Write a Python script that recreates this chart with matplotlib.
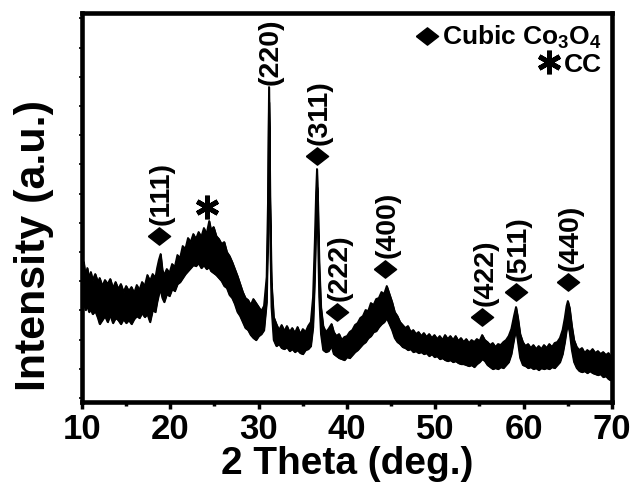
import numpy as np
import matplotlib
matplotlib.use("Agg")
import matplotlib.pyplot as plt
from matplotlib.ticker import MultipleLocator, FixedLocator

plt.rcParams['font.family'] = ['Liberation Sans', 'DejaVu Sans']
plt.rcParams['font.weight'] = 'bold'
plt.rcParams['mathtext.fontset'] = 'custom'
plt.rcParams['mathtext.rm'] = 'Liberation Sans:bold'
plt.rcParams['mathtext.default'] = 'rm'

# XRD scan (2 theta in degrees); the noisy trace is kept as upper / lower envelope
two_theta = [
    10.0, 10.2, 10.4, 10.6, 10.8, 11.0, 11.2, 11.5, 11.8, 12.0, 12.3, 12.6,
    12.9, 13.2, 13.5, 13.8, 14.1, 14.4, 14.7, 15.0, 15.3, 15.6, 15.9, 16.2,
    16.5, 16.8, 17.1, 17.4, 17.7, 18.0, 18.3, 18.5, 18.7, 18.9, 19.1, 19.3,
    19.6, 19.9, 20.2, 20.5, 20.8, 21.1, 21.4, 21.7, 22.0, 22.3, 22.6, 22.9,
    23.2, 23.5, 23.8, 24.1, 24.4, 24.6, 24.9, 25.2, 25.5, 25.8, 26.1, 26.4,
    26.7, 27.0, 27.3, 27.6, 27.9, 28.2, 28.5, 28.8, 29.1, 29.4, 29.7, 30.0,
    30.3, 30.6, 30.9, 31.05, 31.17, 31.3, 31.45, 31.7, 32.0, 32.3, 32.6, 32.9,
    33.2, 33.5, 33.8, 34.1, 34.4, 34.7, 35.0, 35.3, 35.6, 35.9, 36.15, 36.35,
    36.5, 36.6, 36.72, 36.85, 37.05, 37.3, 37.6, 37.9, 38.25, 38.5, 38.8, 39.1,
    39.4, 39.7, 40.0, 40.3, 40.6, 40.9, 41.2, 41.5, 41.8, 42.1, 42.4, 42.7,
    43.0, 43.3, 43.6, 43.9, 44.2, 44.5, 44.8, 45.1, 45.4, 45.7, 46.0, 46.3,
    46.6, 46.9, 47.2, 47.5, 47.8, 48.1, 48.4, 48.7, 49.0, 49.3, 49.6, 49.9,
    50.2, 50.5, 50.8, 51.1, 51.4, 51.7, 52.0, 52.3, 52.6, 52.9, 53.2, 53.5,
    53.8, 54.1, 54.4, 54.7, 55.0, 55.3, 55.6, 55.9, 56.2, 56.5, 56.8, 57.1,
    57.4, 57.7, 58.0, 58.3, 58.6, 58.9, 59.13, 59.35, 59.6, 59.9, 60.2, 60.5,
    60.8, 61.1, 61.4, 61.7, 62.0, 62.3, 62.6, 62.9, 63.2, 63.5, 63.8, 64.1,
    64.4, 64.65, 64.85, 65.0, 65.2, 65.45, 65.7, 66.0, 66.3, 66.6, 66.9, 67.2,
    67.5, 67.8, 68.1, 68.4, 68.7, 69.0, 69.3, 69.6, 69.8, 70.0,
]
intensity_hi = [
    130, 140, 126, 134, 124, 130, 122, 128, 120, 124, 116, 122,
    118, 123, 114, 120, 113, 118, 110, 116, 111, 115, 109, 117,
    112, 120, 116, 127, 121, 128, 124, 134, 142, 148, 132, 127,
    133, 129, 138, 135, 147, 144, 156, 153, 164, 160, 168, 163,
    170, 165, 174, 168, 181, 172, 175, 166, 163, 158, 160, 150,
    146, 140, 133, 126, 118, 110, 104, 102, 97, 103, 99, 95,
    91, 96, 125, 200, 315, 200, 120, 85, 78, 72, 77, 71,
    76, 70, 74, 69, 75, 68, 73, 70, 76, 80, 105, 160,
    210, 233, 195, 140, 95, 76, 70, 73, 78, 70, 66, 68,
    62, 65, 66, 70, 72, 77, 79, 84, 86, 92, 91, 99,
    97, 103, 104, 110, 108, 116, 108, 100, 90, 86, 80, 77,
    74, 76, 70, 72, 68, 70, 66, 69, 65, 68, 64, 67,
    63, 66, 62, 67, 63, 66, 62, 66, 61, 64, 60, 63,
    59, 62, 60, 63, 61, 67, 62, 60, 57, 59, 55, 58,
    57, 60, 62, 66, 73, 86, 95, 84, 68, 60, 56, 58,
    54, 57, 53, 56, 53, 57, 54, 58, 55, 59, 60, 64,
    72, 84, 96, 101, 94, 76, 62, 55, 52, 54, 49, 52,
    50, 53, 49, 51, 48, 50, 47, 49, 46, 47,
]
intensity_lo = [
    95, 100, 92, 96, 90, 93, 88, 91, 84, 78, 82, 86,
    80, 87, 79, 84, 82, 78, 83, 79, 82, 78, 83, 86,
    84, 89, 85, 88, 80, 92, 90, 100, 108, 112, 104, 100,
    108, 106, 113, 111, 118, 120, 124, 128, 131, 134, 137, 136,
    139, 134, 137, 133, 135, 131, 129, 127, 124, 121, 116, 114,
    107, 104, 98, 90, 86, 80, 74, 72, 67, 64, 62, 66,
    68, 72, 100, 170, 300, 170, 95, 62, 56, 58, 54, 53,
    55, 51, 53, 50, 52, 49, 48, 52, 53, 56, 75, 125,
    180, 215, 165, 105, 68, 52, 50, 51, 56, 48, 46, 44,
    43, 42, 45, 44, 47, 50, 52, 55, 58, 60, 64, 66,
    70, 71, 75, 78, 80, 84, 78, 72, 64, 60, 58, 55,
    54, 52, 53, 50, 51, 49, 50, 48, 49, 46, 48, 45,
    46, 43, 44, 42, 41, 42, 40, 41, 39, 38, 38, 37,
    36, 37, 35, 38, 40, 43, 41, 37, 35, 33, 34, 33,
    35, 34, 37, 40, 48, 63, 73, 60, 44, 37, 36, 34,
    35, 33, 34, 32, 34, 33, 34, 33, 35, 34, 37, 40,
    48, 60, 72, 78, 70, 52, 40, 34, 31, 30, 31, 29,
    31, 29, 28, 27, 28, 25, 26, 23, 22, 22,
]

# Co3O4 reflections: hkl, diamond position (2 theta, intensity)
hkl_labels = ['(111)', '(311)', '(222)', '(400)', '(422)', '(511)', '(440)']
hkl_theta = [18.72, 36.6, 38.87, 44.3, 55.3, 59.13, 65.0]
hkl_mark = [166, 246, 90, 133, 85, 110, 120]

fig = plt.figure(figsize=(6.34, 4.89), dpi=100)
ax = fig.add_axes([0.1293, 0.1759, 0.8360, 0.7955])

ax.fill_between(two_theta, intensity_lo, intensity_hi, color='black', lw=1.0)
ax.plot(two_theta, intensity_hi, color='black', lw=1.3)
ax.plot(two_theta, intensity_lo, color='black', lw=1.3)

# diamond peak markers (glyph is a bit wider than tall)
diamond = [(-1.0, 0.0), (0.0, 0.78), (1.0, 0.0), (0.0, -0.78), (-1.0, 0.0)]
for lab, th, h in zip(hkl_labels, hkl_theta, hkl_mark):
    ax.plot(th, h, marker=diamond, ms=16, color='black', ls='none')
    ax.text(th + 0.35, h + 12, lab, rotation=90, ha='center', va='bottom',
            fontsize=20.5, fontweight='bold')

# (220) label without marker, carbon cloth star
ax.text(31.4, 318, '(220)', rotation=90, ha='center', va='bottom',
        fontsize=20.5, fontweight='bold')
ax.plot(24.15, 195, marker=(6, 2, 0), ms=17, mew=3.5, color='black')

# key in the top-right corner
ax.plot(0.651, 0.941, marker=diamond, ms=16, color='black', ls='none',
        transform=ax.transAxes)
ax.text(0.981, 0.941, r'Cubic Co$_3$O$_4$', transform=ax.transAxes,
        ha='right', va='center', fontsize=19, fontweight='bold')
ax.plot(0.881, 0.874, marker=(6, 2, 0), ms=17, mew=3.5, color='black',
        transform=ax.transAxes)
ax.text(0.981, 0.869, 'CC', transform=ax.transAxes,
        ha='right', va='center', fontsize=19, fontweight='bold')

ax.set_xlim(10, 70)
ax.set_ylim(0, 389)
ax.xaxis.set_major_locator(MultipleLocator(10))
ax.xaxis.set_minor_locator(MultipleLocator(5))
ax.yaxis.set_major_locator(FixedLocator(np.arange(4, 389, 29.2)))
ax.set_yticklabels([])
ax.tick_params(axis='x', which='major', direction='out', length=5, width=2.5,
               labelsize=25, pad=2)
ax.tick_params(axis='x', which='minor', direction='out', length=3, width=2.5)
ax.tick_params(axis='y', which='major', direction='out', length=2, width=1.2)
for lbl in ax.get_xticklabels():
    lbl.set_fontweight('bold')
for sp in ax.spines.values():
    sp.set_linewidth(3.3)

ax.set_xlabel('2 Theta (deg.)', fontsize=28, fontweight='bold', labelpad=0)
ax.set_ylabel('Intensity (a.u.)', fontsize=31, fontweight='bold')
ax.yaxis.set_label_coords(-0.053, 0.406)

fig.savefig('out.png', dpi=100)
